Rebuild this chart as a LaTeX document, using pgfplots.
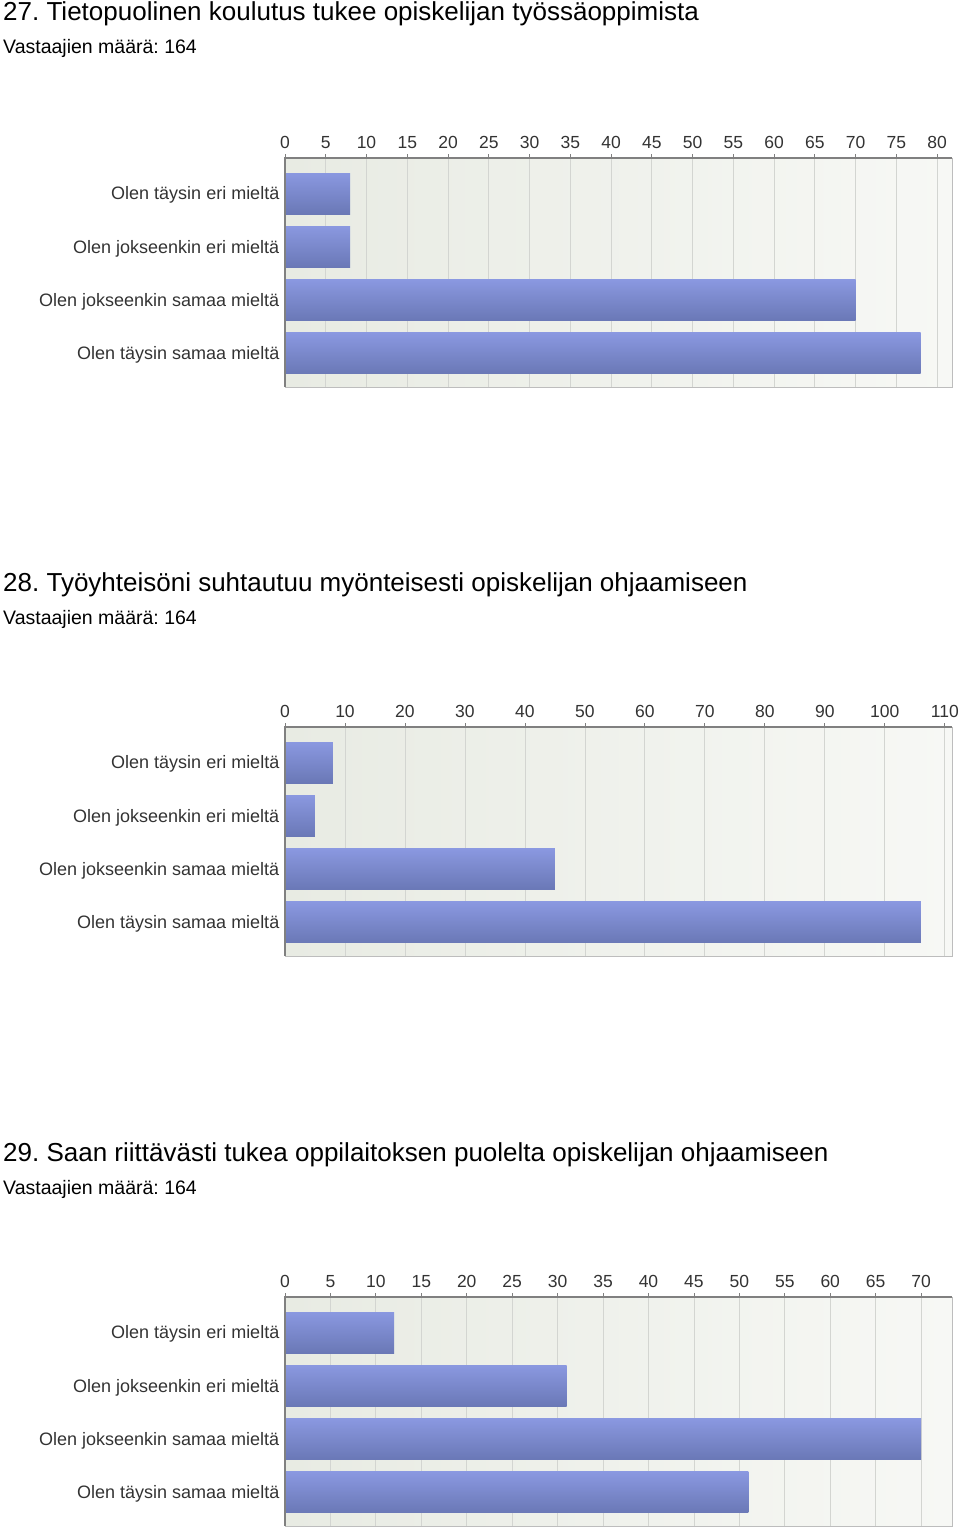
\documentclass[border=0pt]{standalone}
\usepackage{fontspec}
\setmainfont{Liberation Sans}
\usepackage{pgfplots}
\pgfplotsset{compat=1.18}
\definecolor{barTop}{HTML}{8A98E0}
\definecolor{barBot}{HTML}{6A78B6}
\definecolor{bgL}{HTML}{E8EBE3}
\definecolor{bgR}{HTML}{F7F8F5}
\definecolor{gridc}{HTML}{D3D5D1}
\definecolor{darkax}{HTML}{808080}
\definecolor{lightax}{HTML}{BDBDBD}
\definecolor{txt}{HTML}{333333}
\pgfplotsset{
  survey/.style={
    scale only axis, width=667pt, height=229pt,
    xbar, bar width=41pt, bar shift=0pt,
    xmin=0, ymin=-0.63, ymax=3.67,
    ytick={0,1,2,3},
    yticklabels={Olen täysin samaa mieltä, Olen jokseenkin samaa mieltä, Olen jokseenkin eri mieltä, Olen täysin eri mieltä},
    ytick style={draw=none},
    yticklabel style={font=\fontsize{18}{21}\selectfont, text=txt, inner sep=0pt, xshift=-1.5pt, yshift=-1.5pt},
    xtick pos=right, xticklabel pos=right,
    tick align=outside, major tick length=4pt,
    xtick style={darkax, line width=0.8pt},
    xticklabel style={font=\fontsize{17.5}{20}\selectfont, text=txt, inner sep=0pt, anchor=base, yshift=6pt},
    /pgf/number format/assume math mode=true,
    xmajorgrids, major grid style={gridc, line width=0.8pt},
    axis line style={lightax, line width=1pt},
    axis background/.style={left color=bgL, right color=bgR},
    after end axis/.code={\draw[darkax, line width=1.6pt] (axis description cs:0,0) -- (axis description cs:0,1) -- (axis description cs:1,1);},
  },
  surveybar/.style={draw=none, top color=barTop, bottom color=barBot},
}
\begin{document}
\frenchspacing
\begin{tikzpicture}
\useasboundingbox (0,0) rectangle (960pt,-1530pt);
% Chart 27
\node[anchor=base west, inner sep=0pt, font=\fontsize{26}{30}\selectfont] at (3pt,-21pt) {27. Tietopuolinen koulutus tukee opiskelijan työssäoppimista};
\node[anchor=base west, inner sep=0pt, font=\fontsize{19.5}{22}\selectfont] at (3pt,-54pt) {Vastaajien määrä: 164};
\begin{axis}[survey, at={(285pt,-387pt)}, anchor=south west, xmax=81.84, xtick={0,5,...,80}]
\addplot[surveybar] coordinates {(8,3)};
\addplot[surveybar] coordinates {(8,2)};
\addplot[surveybar] coordinates {(70,1)};
\addplot[surveybar] coordinates {(78,0)};
\end{axis}
% Chart 28
\node[anchor=base west, inner sep=0pt, font=\fontsize{26}{30}\selectfont] at (3pt,-591pt) {28. Työyhteisöni suhtautuu myönteisesti opiskelijan ohjaamiseen};
\node[anchor=base west, inner sep=0pt, font=\fontsize{19.5}{22}\selectfont] at (3pt,-624pt) {Vastaajien määrä: 164};
\begin{axis}[survey, at={(285pt,-956pt)}, anchor=south west, xmax=111.2, xtick={0,10,...,110}]
\addplot[surveybar] coordinates {(8,3)};
\addplot[surveybar] coordinates {(5,2)};
\addplot[surveybar] coordinates {(45,1)};
\addplot[surveybar] coordinates {(106,0)};
\end{axis}
% Chart 29
\node[anchor=base west, inner sep=0pt, font=\fontsize{26}{30}\selectfont] at (3pt,-1161pt) {29. Saan riittävästi tukea oppilaitoksen puolelta opiskelijan ohjaamiseen};
\node[anchor=base west, inner sep=0pt, font=\fontsize{19.5}{22}\selectfont] at (3pt,-1194pt) {Vastaajien määrä: 164};
\begin{axis}[survey, at={(285pt,-1526pt)}, anchor=south west, xmax=73.4, xtick={0,5,...,70}]
\addplot[surveybar] coordinates {(12,3)};
\addplot[surveybar] coordinates {(31,2)};
\addplot[surveybar] coordinates {(70,1)};
\addplot[surveybar] coordinates {(51,0)};
\end{axis}
\end{tikzpicture}
\end{document}
